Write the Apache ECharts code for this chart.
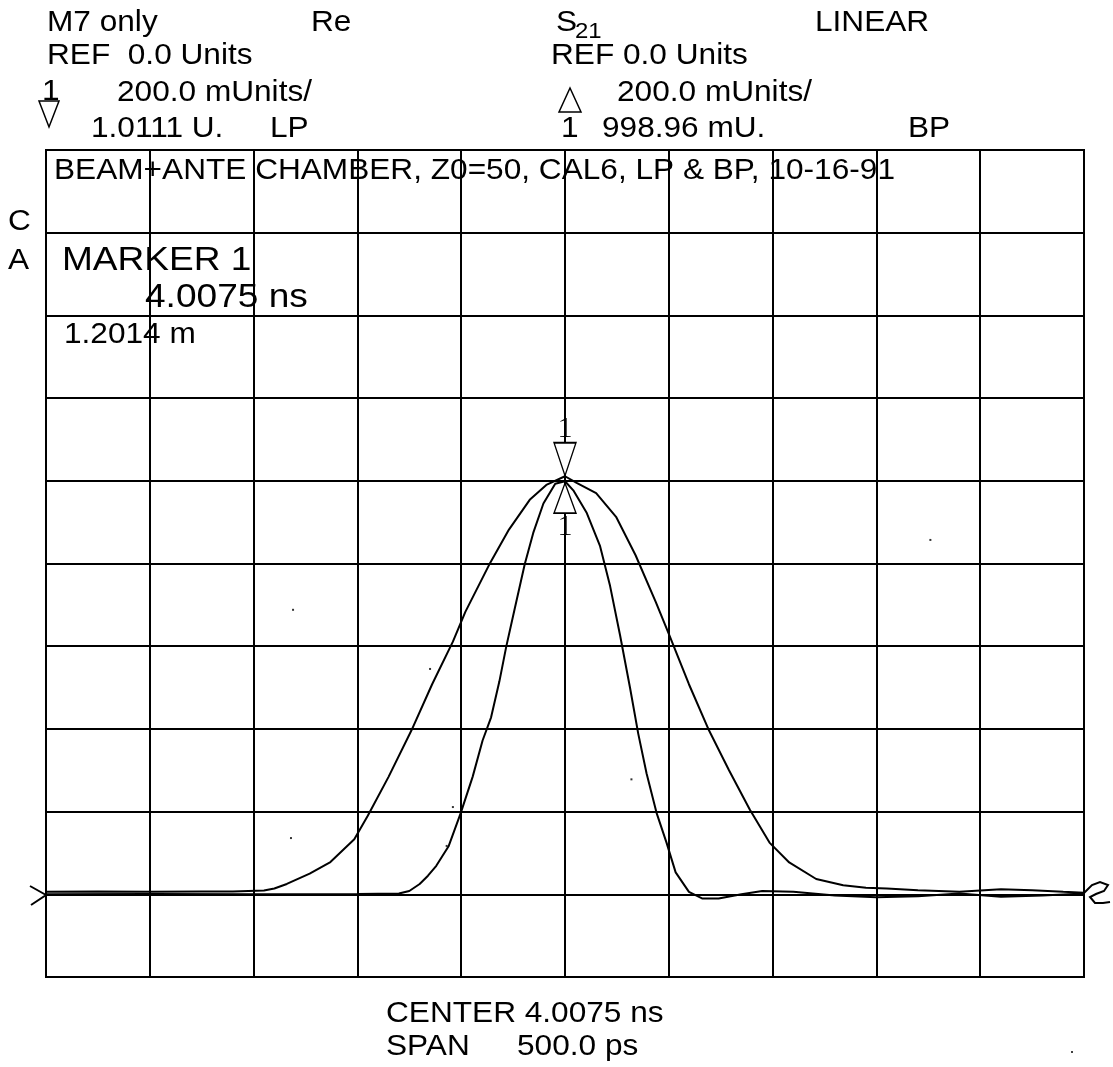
<!DOCTYPE html>
<html>
<head>
<meta charset="utf-8">
<script src="https://cdn.jsdelivr.net/npm/echarts@6/dist/echarts.min.js"></script>
<style>
html,body{margin:0;padding:0;background:#fff;}
#chart{width:1113px;height:1067px;}
</style>
</head>
<body>
<div id="chart"></div>
<script>
// Time offset from CENTER 4.0075 ns, in ps (SPAN 500 ps -> -250..250)
const xMinPs = -250, xMaxPs = 250, xStepPs = 50;
// Real part of S21 in mUnits (200 mU/div, REF 0)
const yMinMU = -200, yMaxMU = 1800, yStepMU = 200;

// LP trace (wide pulse)
const lpTimePs = [-250,-225,-200,-175,-160,-145,-140,-134,-123,-113,-101.5,-95,-85,-74,-64,-54,-48,-36,-27,-17,-9,0,5.6,15,24.6,34,43.7,50,59.7,69.4,79,89,98.5,108,121,134,145,155,170,190,210,225,240,250];
const lpValues  = [6,7,6,7,7,9,14,25,50,78,133,190,284,396,508,611,683,802,882,954,990,1011,995,970,913,820,707,630,508,396,300,205,125,77,37,22,16,14,10,6,12,10,6,4];

// BP trace (narrow pulse)
const bpTimePs = [-250,-200,-150,-100,-80,-75,-70,-66,-62,-56,-50.2,-44.5,-39.7,-35.6,-31.6,-28.3,-24.2,-19.4,-15.3,-10.4,-4.7,0,4,10.5,16.9,21.7,26.5,31.3,35.3,39.3,44.1,48.9,53.3,59.7,66,74,85,95,110,130,150,170,190,210,230,250];
const bpValues  = [0,1,0,1,2,8,25,45,69,117,197,284,372,428,515,599,691,798,874,945,993,999,977,922,842,746,627,500,388,292,197,125,53,6,-10,-10,0,8,6,-3,-7,-5,2,-6,-3,2];

// stray plotter specks
const speckTimePs = [-131,-65,-132,-54,-57,32,176];
const speckValues = [688,545,136,211,117,278,857];

// marker 1 readouts
const markerTimePs = 0;
const lpMarkerValue = 1011.1;
const bpMarkerValue = 998.96;

const FONT = '"Liberation Sans", Arial, sans-serif';
const SX = 1.09;

function pairs(xs, ys){ return xs.map((x,i)=>[x, ys[i]]); }

function txt(str, x, y, size, extra){
  return Object.assign({
    type:'text', x:x, y:y, scaleX:SX, z:100,
    style:{text:str, fontSize:size, fontFamily:FONT, fill:'#000', align:'left', verticalAlign:'middle'}
  }, extra||{});
}

const chart = echarts.init(document.getElementById('chart'), null, {renderer:'canvas'});

const option = {
  backgroundColor:'#fff',
  animation:false,
  grid:{left:46, right:29, top:150, bottom:90, show:true, borderColor:'#000', borderWidth:2, backgroundColor:'transparent'},
  xAxis:{
    type:'value', min:xMinPs, max:xMaxPs, interval:xStepPs,
    axisLine:{show:false}, axisTick:{show:false}, axisLabel:{show:false},
    splitLine:{show:true, lineStyle:{color:'#000', width:2}}
  },
  yAxis:{
    type:'value', min:yMinMU, max:yMaxMU, interval:yStepMU,
    axisLine:{show:false}, axisTick:{show:false}, axisLabel:{show:false},
    splitLine:{show:true, lineStyle:{color:'#000', width:2}}
  },
  series:[
    {
      name:'LP', type:'line', data:pairs(lpTimePs, lpValues), showSymbol:false, symbol:'none',
      lineStyle:{color:'#000', width:2}, z:5,
      markPoint:{
        symbol:'path://M0,0 L22,0 L11,32 Z', symbolSize:[22,33], symbolKeepAspect:false,
        symbolOffset:[0,-17],
        itemStyle:{color:'#fff', borderColor:'#000', borderWidth:1.5},
        label:{show:true, position:'top', distance:-2, formatter:'1', color:'#000', fontSize:30, fontFamily:'"Liberation Serif", serif'},
        data:[{coord:[markerTimePs, lpMarkerValue]}]
      }
    },
    {
      name:'BP', type:'line', data:pairs(bpTimePs, bpValues), showSymbol:false, symbol:'none',
      lineStyle:{color:'#000', width:2}, z:5,
      markPoint:{
        symbol:'path://M11,0 L22,30 L0,30 Z', symbolSize:[22,30], symbolKeepAspect:false,
        symbolOffset:[0,17],
        itemStyle:{color:'#fff', borderColor:'#000', borderWidth:1.5},
        label:{show:true, position:'bottom', distance:-2, formatter:'1', color:'#000', fontSize:30, fontFamily:'"Liberation Serif", serif'},
        data:[{coord:[markerTimePs, bpMarkerValue]}]
      }
    },
    {
      name:'specks', type:'scatter', data:pairs(speckTimePs, speckValues),
      symbol:'rect', symbolSize:2, itemStyle:{color:'#000'}, z:4
    }
  ],
  graphic:[
    // header line 1
    txt('M7 only', 47, 23, 29),
    txt('Re', 311, 23, 29),
    txt('S', 556, 23, 29),
    txt('21', 575, 32, 22),
    txt('LINEAR', 815, 23, 29),
    // header line 2
    txt('REF  0.0 Units', 47, 56, 29),
    txt('REF 0.0 Units', 551, 56, 29),
    // header line 3
    txt('200.0 mUnits/', 117, 93, 29),
    txt('200.0 mUnits/', 617, 93, 29),
    // header line 4
    txt('1.0111 U.', 91, 129, 29),
    txt('LP', 270, 129, 29),
    txt('1', 561, 129, 29),
    txt('998.96 mU.', 602, 129, 29),
    txt('BP', 908, 129, 29),
    // trace markers in header
    {type:'polygon', z:100, shape:{points:[[39,101],[59,101],[49,127]]}, style:{fill:'#fff', stroke:'#000', lineWidth:1.5}},
    txt('1', 42, 92, 29, {z:101}),
    {type:'polygon', z:100, shape:{points:[[570,88],[581,112],[559,112]]}, style:{fill:'#fff', stroke:'#000', lineWidth:1.5}},
    // inside grid
    txt('BEAM+ANTE CHAMBER, Z0=50, CAL6, LP & BP, 10-16-91', 54, 171, 29),
    txt('C', 8, 222, 29),
    txt('A', 8, 261, 29),
    txt('MARKER 1', 62, 261, 34),
    txt('4.0075 ns', 145, 298, 34),
    txt('1.2014 m', 64, 335, 29),
    // footer
    txt('CENTER 4.0075 ns', 386, 1014, 29),
    txt('SPAN', 386, 1047, 29),
    txt('500.0 ps', 517, 1047, 29),
    // reference position markers
    {type:'polyline', z:100, shape:{points:[[30,886],[46,895],[31,905]]}, style:{stroke:'#000', lineWidth:2, fill:null}},
    {type:'polyline', z:100, shape:{points:[[1084,893],[1092,885],[1100,882],[1108,885],[1104,891],[1096,894],[1090,897],[1095,903],[1103,903],[1110,902]]}, style:{stroke:'#000', lineWidth:2, fill:null}},
    {type:'circle', z:100, shape:{cx:1072, cy:1052, r:1}, style:{fill:'#000'}}
  ]
};
chart.setOption(option);
</script>
</body>
</html>
